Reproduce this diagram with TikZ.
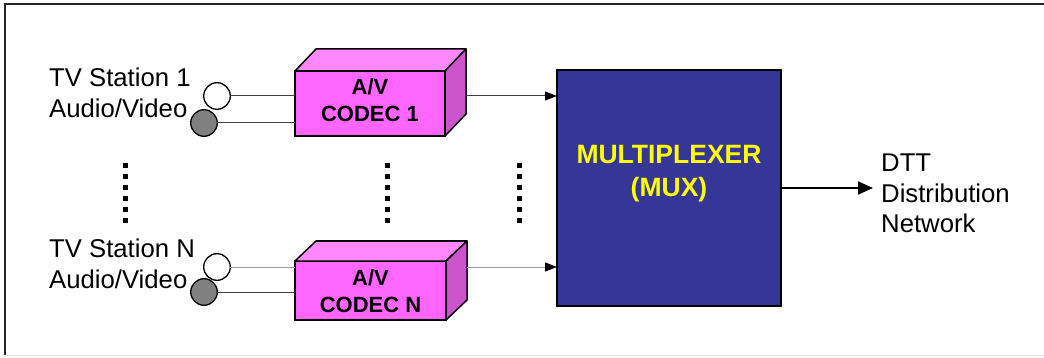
\documentclass[tikz,border=0pt]{standalone}
\usepackage{fontspec}
\setmainfont{Liberation Sans}
\usetikzlibrary{arrows.meta}
\definecolor{magfront}{HTML}{FF66FF}
\definecolor{magtop}{HTML}{FF88FF}
\definecolor{magside}{HTML}{CC55CC}
\definecolor{muxblue}{HTML}{363696}
\definecolor{muxyellow}{HTML}{FFFF00}
\definecolor{jackgray}{HTML}{808080}
\definecolor{wiredark}{HTML}{404040}
\definecolor{wirelight}{HTML}{9A9A9A}
\tikzset{
  plain/.style={font=\fontsize{25.7}{31}\selectfont, inner sep=0, align=left},
  codecfront/.style={draw=black, line width=1.5pt, fill=magfront, inner sep=0, outer sep=0},
  face/.style={draw=black, line width=1.5pt, line join=round},
  codectext/.style={font=\bfseries\fontsize{22}{27}\selectfont, inner sep=0, align=center},
  jack/.style={circle, draw=black, line width=1.3pt, minimum size=26.6pt, inner sep=0, outer sep=0},
  wire/.style={line width=1pt, draw=wiredark},
  arr/.style={line width=1pt, -{Triangle[length=12pt,width=9pt,color=black]}},
  bigarr/.style={line width=1.8pt, -{Triangle[length=15pt,width=13pt]}},
  dotcol/.style={line width=5pt, dash pattern=on 5pt off 6pt},
  muxbox/.style={draw=black, line width=1.8pt, fill=muxblue, inner sep=0, outer sep=0,
    minimum width=224pt, minimum height=236pt},
  muxtext/.style={font=\bfseries\fontsize{26.5}{33}\selectfont, text=muxyellow, inner sep=0, align=center}
}
\begin{document}
\begin{tikzpicture}[x=1pt,y=-1pt]
\useasboundingbox (0,0) rectangle (1044,358);
% frame
\draw[line width=2pt, black!85] (1044,4) -- (5,4) -- (5,355);
\draw[line width=1pt, black!12] (5,355.5) -- (1044,355.5);

% station labels (base anchor = last line baseline)
\node[plain, anchor=base west] (s1) at (49,118) {TV Station 1\\Audio/Video};
\node[plain, anchor=base west] (sN) at (49,288) {TV Station N\\Audio/Video};

% jacks
\node[jack, fill=white] (w1) at (217,96) {};
\node[jack, fill=jackgray] (g1) at (204,123) {};
\node[jack, fill=white] (wN) at (217,267) {};
\node[jack, fill=jackgray] (gN) at (204,292) {};

% codec 1
\node[codecfront, minimum width=150pt, minimum height=65pt] (c1) at (370,103.5) {};
\draw[face, fill=magtop] (c1.north west) -- ++(21,-22) -- ++(150,0) -- (c1.north east) -- cycle;
\draw[face, fill=magside] (c1.north east) -- ++(21,-22) -- ++(0,65) -- (c1.south east) -- cycle;
\node[codectext, anchor=base] (t1) at (370,122) {A/V\\CODEC 1};
\coordinate (c1r) at ([xshift=21pt]c1.east);

% codec N
\node[codecfront, minimum width=151pt, minimum height=59pt] (cN) at (370.5,290.5) {};
\draw[face, fill=magtop] (cN.north west) -- ++(21,-20) -- ++(151,0) -- (cN.north east) -- cycle;
\draw[face, fill=magside] (cN.north east) -- ++(21,-20) -- ++(0,59) -- (cN.south east) -- cycle;
\node[codectext, anchor=base] (tN) at (370.5,312) {A/V\\CODEC N};
\coordinate (cNr) at ([xshift=21pt]cN.east);

% wires into codecs
\draw[wire] (w1.east) -- (w1.east -| c1.west);
\draw[wire] (g1.east) -- (g1.east -| c1.west);
\draw[wire, draw=wirelight] (wN.east) -- (wN.east -| cN.west);
\draw[wire] (gN.east) -- (gN.east -| cN.west);

% multiplexer
\node[muxbox] (mux) at (669,188) {};
\node[muxtext, anchor=base] (muxt) at (669,197) {MULTIPLEXER\\(MUX)};

% codec -> mux
\draw[arr, draw=wiredark] (w1 -| c1r) -- (w1 -| mux.west);
\draw[arr, draw=wirelight] (wN -| cNr) -- (wN -| mux.west);

% output
\coordinate (outend) at (873,188);
\draw[bigarr] (mux.east) -- (outend);
\node[plain, anchor=base west, font=\fontsize{25.7}{30.5}\selectfont] (dtt) at (881,233) {DTT\\Distribution\\Network};

% continuation dots
\draw[dotcol] (125,163.5) -- (125,224);
\draw[dotcol] (387,163.5) -- (387,224);
\draw[dotcol] (519,163.5) -- (519,224);
\end{tikzpicture}
\end{document}
